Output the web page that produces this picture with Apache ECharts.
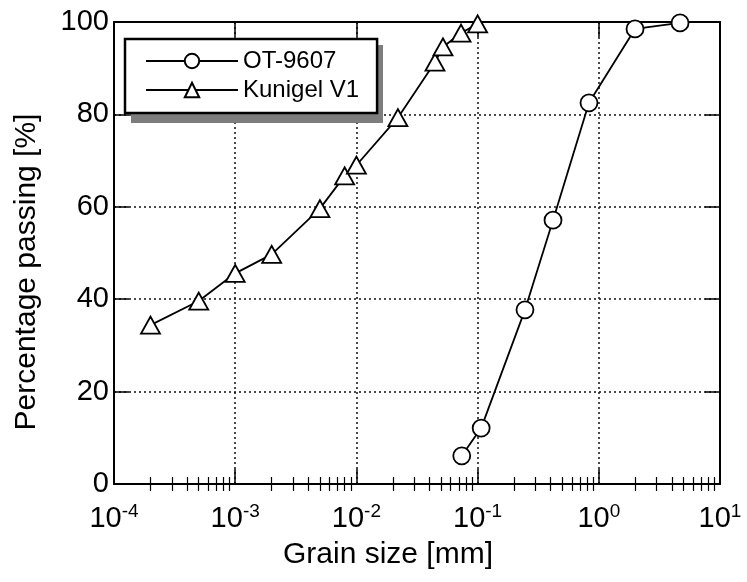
<!DOCTYPE html>
<html>
<head>
<meta charset="utf-8">
<script src="https://cdn.jsdelivr.net/npm/echarts@6/dist/echarts.min.js"></script>
<style>
html,body{margin:0;padding:0;background:#fff;}
#c{width:747px;height:582px;}
</style>
</head>
<body>
<div id="c"></div>
<script>
// Data
const otX = [0.074, 0.107, 0.246, 0.419, 0.83, 1.99, 4.68];
const otY = [6.1, 12.1, 37.7, 57.1, 82.5, 98.5, 99.8];
const kuX = [2e-4, 5e-4, 1e-3, 2e-3, 5e-3, 8e-3, 1e-2, 0.022, 0.0445, 0.0518, 0.073, 0.1];
const kuY = [34.4, 39.6, 45.6, 49.7, 59.6, 66.7, 69, 79.3, 91.3, 94.6, 97.6, 99.6];
const seriesNames = ['OT-9607', 'Kunigel V1'];
const xMin = 1e-4, xMax = 10;
const yTicks = [0, 20, 40, 60, 80, 100];
const xTitle = 'Grain size [mm]';
const yTitle = 'Percentage passing [%]';

const minorVals = [];
for (let k = -4; k <= 0; k++) {
  for (let m = 2; m <= 9; m++) minorVals.push(m * Math.pow(10, k));
}
const majorVals = [1e-4, 1e-3, 1e-2, 1e-1, 1, 10];

const FONT = '"Liberation Sans", Arial, Helvetica, sans-serif';
const chart = echarts.init(document.getElementById('c'), null, {renderer: 'canvas'});

function baseX(extra) {
  return Object.assign({
    type: 'log', logBase: 10, min: xMin, max: xMax,
    axisLine: {show: false},
    axisTick: {show: false},
    axisLabel: {show: false},
    splitLine: {show: false},
    minorTick: {show: false},
    minorSplitLine: {show: false}
  }, extra);
}

const option = {
  backgroundColor: '#fff',
  animation: false,
  textStyle: {fontFamily: FONT, color: '#000'},
  grid: {left: 114, right: 27, top: 22, bottom: 98, containLabel: false},
  legend: {
    orient: 'vertical',
    left: 125, top: 39,
    z: 10,
    data: seriesNames,
    padding: [10, 18, 11, 20],
    itemGap: 5,
    itemWidth: 92, itemHeight: 18,
    backgroundColor: '#fff',
    borderColor: '#000', borderWidth: 2.5, borderRadius: 0,
    textStyle: {fontSize: 24, color: '#000', fontFamily: FONT}
  },
  graphic: [{
    type: 'rect', z: 9, silent: true,
    shape: {x: 131, y: 45, width: 252, height: 78},
    style: {fill: '#7d7d7d'}
  }],
  xAxis: [
    baseX({
      position: 'bottom',
      name: xTitle, nameLocation: 'middle', nameGap: 56,
      nameTextStyle: {fontSize: 30, color: '#000', fontFamily: FONT, padding: [0, 58, 0, 0]},
      axisLine: {show: true, onZero: false, lineStyle: {color: '#000', width: 2}},
      axisTick: {show: true, inside: true, length: 15, lineStyle: {color: '#000', width: 1.5}, customValues: majorVals},
      axisLabel: {
        show: true, margin: 18, color: '#000',
        customValues: majorVals,
        formatter: function (v) {
          const e = Math.round(Math.log10(v));
          return '{b|10}{s|' + e + '}';
        },
        rich: {
          b: {fontSize: 29, fontFamily: FONT, color: '#000', lineHeight: 34},
          s: {fontSize: 19, fontFamily: FONT, color: '#000', verticalAlign: 'top', lineHeight: 16}
        }
      },
      splitLine: {show: true, lineStyle: {color: '#111', width: 1.5, type: [2, 3]}}
    }),
    baseX({
      position: 'bottom',
      axisTick: {show: true, inside: true, length: 7, lineStyle: {color: '#000', width: 1.2}, customValues: minorVals}
    }),
    baseX({
      position: 'top',
      axisLine: {show: true, onZero: false, lineStyle: {color: '#000', width: 2}},
      axisTick: {show: true, inside: true, length: 15, lineStyle: {color: '#000', width: 1.5}, customValues: majorVals}
    }),
    baseX({
      position: 'top',
      axisTick: {show: true, inside: true, length: 7, lineStyle: {color: '#000', width: 1.2}, customValues: minorVals}
    })
  ],
  yAxis: [
    {
      type: 'value', min: 0, max: 100, interval: 20, position: 'left',
      name: yTitle, nameLocation: 'middle', nameGap: 72,
      nameTextStyle: {fontSize: 30, color: '#000', fontFamily: FONT, padding: [0, 38, 0, 0]},
      axisLine: {show: true, onZero: false, lineStyle: {color: '#000', width: 2}},
      axisTick: {show: true, inside: true, length: 15, lineStyle: {color: '#000', width: 1.5}},
      axisLabel: {show: true, margin: 5, fontSize: 29, color: '#000', fontFamily: FONT,
        customValues: yTicks},
      splitLine: {show: true, lineStyle: {color: '#111', width: 1.5, type: [2, 3]}}
    },
    {
      type: 'value', min: 0, max: 100, interval: 20, position: 'right',
      axisLine: {show: true, onZero: false, lineStyle: {color: '#000', width: 2}},
      axisTick: {show: true, inside: true, length: 15, lineStyle: {color: '#000', width: 1.5}},
      axisLabel: {show: false},
      splitLine: {show: false}
    }
  ],
  series: [
    {
      name: seriesNames[0], type: 'line', xAxisIndex: 0, yAxisIndex: 0,
      data: otX.map((x, i) => [x, otY[i]]),
      symbol: 'circle', symbolSize: 17,
      lineStyle: {color: '#000', width: 1.8},
      itemStyle: {color: '#fff', borderColor: '#000', borderWidth: 1.8},
      z: 5
    },
    {
      name: seriesNames[1], type: 'line', xAxisIndex: 0, yAxisIndex: 0,
      data: kuX.map((x, i) => [x, kuY[i]]),
      symbol: 'triangle', symbolSize: [19, 17],
      lineStyle: {color: '#000', width: 1.8},
      itemStyle: {color: '#fff', borderColor: '#000', borderWidth: 1.8},
      z: 5
    }
  ]
};
chart.setOption(option);
</script>
</body>
</html>
